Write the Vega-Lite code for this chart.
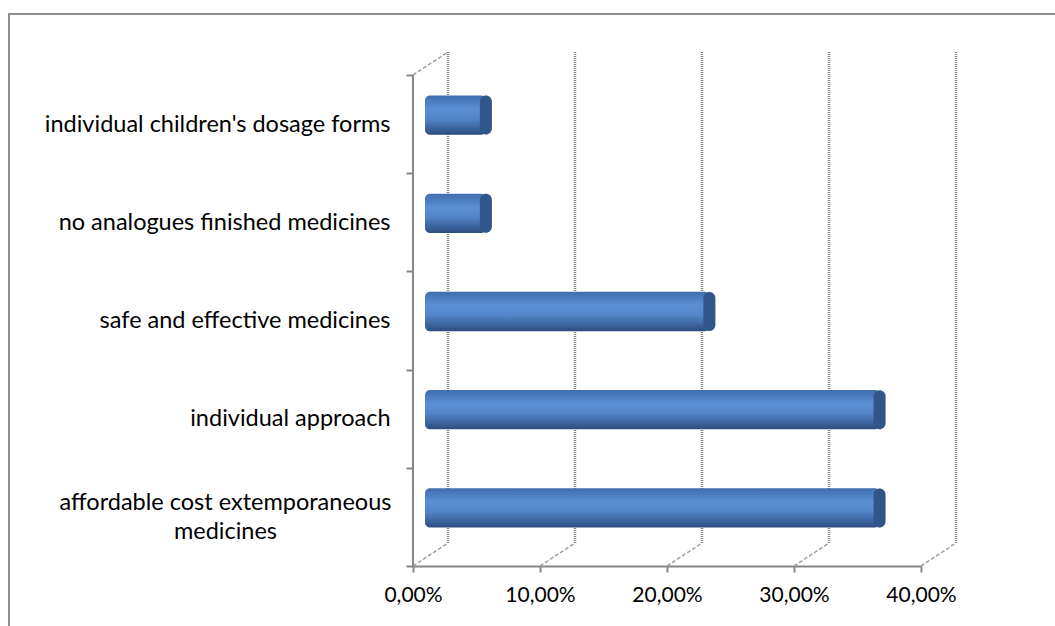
{
  "$schema": "https://vega.github.io/schema/vega-lite/v6.json",
  "width": 1056,
  "height": 622,
  "autosize": {"type": "none"},
  "padding": {"left": 9, "top": 14, "right": -10, "bottom": -10},
  "background": "white",
  "config": {
    "view": {"stroke": "#8f8f8f", "strokeWidth": 2},
    "font": "Lato"
  },
  "datasets": {
    "bars": [
      {"cat": "individual children's dosage forms", "value": 0.044},
      {"cat": "no analogues finished medicines", "value": 0.044},
      {"cat": "safe and effective medicines", "value": 0.22},
      {"cat": "individual approach", "value": 0.354},
      {"cat": "affordable cost extemporaneous medicines", "value": 0.354}
    ],
    "grid": [{"value": 0}, {"value": 0.1}, {"value": 0.2}, {"value": 0.3}, {"value": 0.4}]
  },
  "encoding": {
    "x": {
      "field": "value",
      "type": "quantitative",
      "scale": {"domain": [0, 0.4], "range": [404, 912], "nice": false, "zero": true},
      "axis": {
        "orient": "bottom",
        "offset": -70,
        "values": [0, 0.1, 0.2, 0.3, 0.4],
        "labelExpr": "replace(format(datum.value, '.2%'), '.', ',')",
        "title": null,
        "grid": false,
        "domainColor": "#868686",
        "domainWidth": 2,
        "tickColor": "#868686",
        "tickWidth": 2,
        "tickSize": 6,
        "labelFontSize": 21,
        "labelColor": "#000000",
        "labelPadding": 12,
        "labelFlush": false
      }
    }
  },
  "layer": [
    {
      "data": {"name": "grid"},
      "layer": [
        {
          "mark": {"type": "rule", "color": "#858585", "strokeWidth": 2.5, "strokeDash": [1, 1], "xOffset": 35, "yOffset": -23, "y2Offset": -23},
          "encoding": {
            "y": {"datum": 0, "type": "quantitative", "scale": {"domain": [0, 1], "range": [552, 61]}, "axis": null},
            "y2": {"datum": 1}
          }
        },
        {
          "mark": {"type": "rule", "color": "#a0a0a0", "strokeWidth": 1.5, "strokeDash": [4, 2], "x2Offset": 35, "y2Offset": -23},
          "encoding": {
            "x2": {"field": "value"},
            "y": {"datum": 0, "type": "quantitative", "scale": {"domain": [0, 1], "range": [552, 61]}, "axis": null},
            "y2": {"datum": 0}
          }
        },
        {
          "transform": [{"filter": "datum.value == 0"}],
          "mark": {"type": "rule", "color": "#a0a0a0", "strokeWidth": 1.5, "strokeDash": [4, 2], "x2Offset": 35, "y2Offset": -23},
          "encoding": {
            "x2": {"field": "value"},
            "y": {"datum": 1, "type": "quantitative", "scale": {"domain": [0, 1], "range": [552, 61]}, "axis": null},
            "y2": {"datum": 1}
          }
        },
        {
          "transform": [{"filter": "datum.value == 0"}],
          "mark": {"type": "rule", "color": "#868686", "strokeWidth": 2},
          "encoding": {
            "y": {"datum": 0, "type": "quantitative", "scale": {"domain": [0, 1], "range": [552, 61]}, "axis": null},
            "y2": {"datum": 1}
          }
        }
      ]
    },
    {
      "data": {"name": "bars"},
      "encoding": {
        "y": {
          "field": "cat",
          "type": "nominal",
          "sort": null,
          "scale": {"range": [61, 552], "paddingInner": 0, "paddingOuter": 0},
          "axis": {
            "orient": "left",
            "offset": -404,
            "title": null,
            "tickBand": "extent",
            "domain": false,
            "tickColor": "#868686",
            "tickWidth": 2,
            "tickSize": 7,
            "labelFontSize": 23.5,
            "labelColor": "#000000",
            "labelPadding": {"condition": {"test": "datum.value == 'affordable cost extemporaneous medicines'", "value": 181}, "value": 16},
            "labelAlign": {"condition": {"test": "datum.value == 'affordable cost extemporaneous medicines'", "value": "center"}, "value": "right"},
            "labelOffset": {"condition": {"test": "datum.value == 'affordable cost extemporaneous medicines'", "value": -14}, "value": 0},
            "labelLimit": 0,
            "labelLineHeight": 29,
            "labelExpr": "datum.label == 'affordable cost extemporaneous medicines' ? ['affordable cost extemporaneous', 'medicines'] : datum.label"
          }
        }
      },
      "layer": [
        {
          "mark": {
            "type": "bar",
            "height": {"band": 0.4},
            "xOffset": 17,
            "x2Offset": 12,
            "yOffset": -9,
            "cornerRadius": 5,
            "color": {
              "x1": 0, "y1": 0, "x2": 0, "y2": 1,
              "gradient": "linear",
              "stops": [
                {"offset": 0, "color": "#3f6eae"},
                {"offset": 0.35, "color": "#5b8fd4"},
                {"offset": 0.6, "color": "#5284c7"},
                {"offset": 1, "color": "#2b4d80"}
              ]
            }
          },
          "encoding": {"x2": {"datum": 0}}
        },
        {
          "mark": {"type": "tick", "thickness": 12, "size": 39, "xOffset": 17, "yOffset": -9, "cornerRadius": 6, "opacity": 1, "color": "#33568a"},
          "encoding": {}
        }
      ]
    }
  ],
  "resolve": {"scale": {"y": "independent"}, "axis": {"y": "independent"}}
}
